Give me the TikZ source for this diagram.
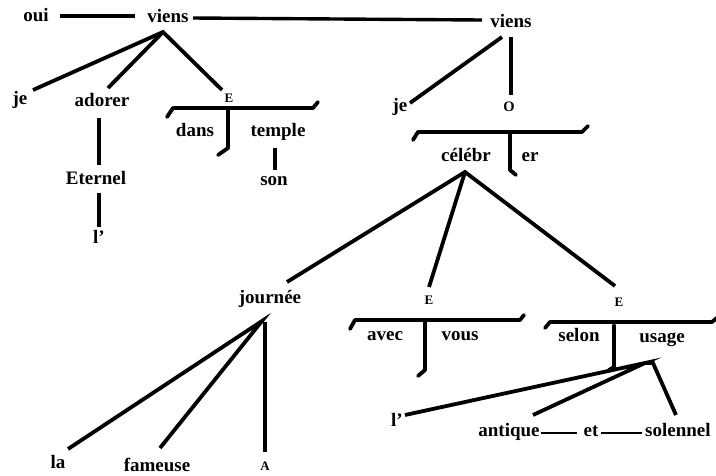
\documentclass[tikz,border=0pt]{standalone}
\usepackage{fontspec}
\setmainfont{Liberation Serif}
\newcommand\wordfont{\fontsize{19}{22}\selectfont\bfseries}
\newcommand\capfont{\fontsize{13}{15}\selectfont\bfseries}
\newcommand\capOfont{\fontsize{14.5}{16}\selectfont\bfseries}
\tikzset{
  w/.style={font=\wordfont, inner sep=0pt, anchor=base},
  sc/.style={font=\capfont, inner sep=0pt, anchor=base},
  scO/.style={font=\capOfont, inner sep=0pt, anchor=base},
  ln/.style={line width=3.8pt, line cap=butt, line join=miter},
  brk/.style={line width=3.8pt, line cap=round, line join=round},
  hln/.style={line width=3.4pt, line cap=butt},
  thin/.style={line width=2.6pt, line cap=butt}
}
\begin{document}
\begin{tikzpicture}[x=1pt,y=-1pt]
\useasboundingbox (0,0) rectangle (716,475);
% ---------- words ----------
\node[w] (oui) at (36,21) {oui};
\node[w] (viensA) at (168,22) {viens};
\node[w] (viensB) at (511,27) {viens};
\node[w] (jeA) at (20,104) {je};
\node[w] (adorer) at (102,106) {adorer};
\node[sc] (EA) at (229,102) {E};
\node[w] (dans) at (195,136) {dans};
\node[w] (temple) at (278,136) {temple};
\node[w] (son) at (274,185) {son};
\node[w] (eternel) at (96,184) {Eternel};
\node[w] (lA) at (99,243) {l'};
\node[w] (jeB) at (400,111) {je};
\node[scO] (O) at (509,111) {O};
\node[w] (celebr) at (466,161) {célébr};
\node[w] (er) at (530,161) {er};
\node[w] (journee) at (270,303) {journée};
\node[w] (la) at (58,468) {la};
\node[w] (fameuse) at (157,471) {fameuse};
\node[sc] (A) at (265,470) {A};
\node[sc] (EB) at (429,304) {E};
\node[sc] (EC) at (619,306) {E};
\node[w] (avec) at (385,340) {avec};
\node[w] (vous) at (460,340) {vous};
\node[w] (selon) at (579,341) {selon};
\node[w] (usage) at (662,342) {usage};
\node[w] (lB) at (397,426) {l'};
\node[w] (antique) at (509,436) {antique};
\node[w] (et) at (591,436) {et};
\node[w, anchor=base west] (solennel) at (645,436) {solennel};
% ---------- points ----------
\coordinate (ouiR) at (60,16);   \coordinate (viensAL) at (135,16);
\coordinate (viensAR) at (193,18); \coordinate (viensBL) at (482,20);
\coordinate (apA) at (163,32);
\coordinate (tJeA) at (33,90);  \coordinate (tAdorer) at (108,88); \coordinate (tEA) at (222,90);
\coordinate (bAl) at (167,117); \coordinate (bAa) at (173,108); \coordinate (bAb) at (313,108); \coordinate (bAr) at (318,102);
\coordinate (vAt) at (228,110); \coordinate (vAb) at (228,148); \coordinate (vAh) at (218,155);
\coordinate (adB) at (99,118); \coordinate (etT) at (99,165);
\coordinate (etB) at (99,193); \coordinate (lAT) at (99,227);
\coordinate (teB) at (275,148); \coordinate (soT) at (275,170);
\coordinate (apB) at (502,37); \coordinate (tJeB) at (410,103);
\coordinate (viB) at (511,37); \coordinate (tO) at (511,95);
\coordinate (bBl) at (413,140); \coordinate (bBa) at (418,132); \coordinate (bBb) at (582,132); \coordinate (bBr) at (588,126);
\coordinate (vBt) at (510,133); \coordinate (vBb) at (510,170); \coordinate (vBh) at (516,175);
\coordinate (apC) at (465,172);
\coordinate (tJour) at (287,282); \coordinate (tEB) at (429,287); \coordinate (tEC) at (615,286);
\coordinate (apJ) at (262,321); \coordinate (apJv) at (265,322);
\coordinate (tLa) at (68,449); \coordinate (tFam) at (160,448); \coordinate (tA) at (265,452);
\coordinate (bCl) at (350,329); \coordinate (bCa) at (355,320); \coordinate (bCb) at (520,320); \coordinate (bCr) at (524,315);
\coordinate (vCt) at (425,322); \coordinate (vCb) at (425,370); \coordinate (vCh) at (418,376);
\coordinate (bDl) at (545,328); \coordinate (bDa) at (550,322); \coordinate (bDb) at (712,322); \coordinate (bDr) at (718,317);
\coordinate (vDt) at (614,325); \coordinate (vDb) at (614,367); \coordinate (vDh) at (609,370);
\coordinate (apU) at (645,363); \coordinate (apUr) at (653,363);
\coordinate (tLB) at (405,415); \coordinate (tAnt) at (533,415); \coordinate (tSol) at (676,415);
\coordinate (antR) at (541,433); \coordinate (etL) at (577,433);
\coordinate (etR) at (601,433); \coordinate (solL) at (642,433);
% ---------- connectors ----------
\draw[hln] (ouiR) -- (viensAL);
\draw[hln] (viensAR) -- (viensBL);
\draw[ln] (tJeA) -- (apA) -- (tEA);
\draw[ln] (apA) -- (tAdorer);
\draw[brk] (bAl) -- (bAa) -- (bAb) -- (bAr);
\draw[brk] (vAt) -- (vAb) -- (vAh);
\draw[ln] (adB) -- (etT);
\draw[ln] (etB) -- (lAT);
\draw[ln] (teB) -- (soT);
\draw[ln] (tJeB) -- (apB);
\draw[ln] (viB) -- (tO);
\draw[brk] (bBl) -- (bBa) -- (bBb) -- (bBr);
\draw[brk] (vBt) -- (vBb) -- (vBh);
\draw[ln] (tJour) -- (apC) -- (tEC);
\draw[ln] (apC) -- (tEB);
\draw[ln] (tLa) -- (apJ) -- (tFam);
\draw[ln] (apJv) -- (tA);
\draw[brk] (bCl) -- (bCa) -- (bCb) -- (bCr);
\draw[brk] (vCt) -- (vCb) -- (vCh);
\draw[brk] (bDl) -- (bDa) -- (bDb) -- (bDr);
\draw[brk] (vDt) -- (vDb) -- (vDh);
\draw[ln] (tLB) -- (apU) -- (tAnt);
\draw[ln] (apU) -- (apUr) -- (tSol);
\draw[thin] (antR) -- (etL);
\draw[thin] (etR) -- (solL);
\end{tikzpicture}
\end{document}
